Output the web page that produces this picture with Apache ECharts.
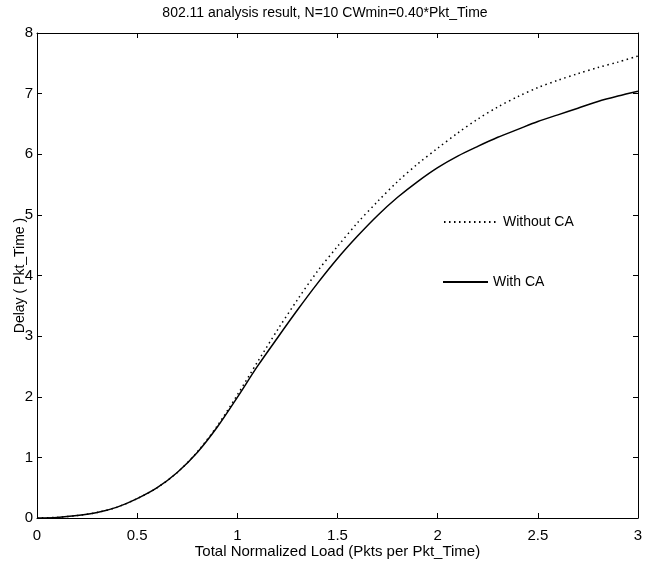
<!DOCTYPE html>
<html>
<head>
<meta charset="utf-8">
<script src="https://cdn.jsdelivr.net/npm/echarts@6/dist/echarts.min.js"></script>
<style>
  html, body { margin: 0; padding: 0; background: #fff; }
  #chart { width: 650px; height: 569px; }
</style>
</head>
<body>
<div id="chart"></div>
<script>
// 数据
const loads = [0, 0.1, 0.2, 0.3, 0.4, 0.5, 0.6, 0.7, 0.8, 0.9, 1.0, 1.1, 1.2, 1.3, 1.4, 1.5, 1.6, 1.7, 1.8, 1.9, 2.0, 2.1, 2.2, 2.3, 2.4, 2.5, 2.6, 2.7, 2.8, 2.9, 3.0];
const withCA = [0, 0.01, 0.04, 0.09, 0.18, 0.32, 0.5, 0.75, 1.08, 1.5, 1.99, 2.5, 2.97, 3.43, 3.87, 4.28, 4.65, 4.99, 5.29, 5.55, 5.78, 5.97, 6.13, 6.28, 6.41, 6.54, 6.65, 6.76, 6.87, 6.96, 7.04];
const withoutCA = [0, 0.01, 0.04, 0.09, 0.18, 0.32, 0.5, 0.75, 1.09, 1.52, 2.03, 2.57, 3.1, 3.6, 4.07, 4.48, 4.87, 5.22, 5.55, 5.84, 6.1, 6.35, 6.58, 6.78, 6.95, 7.1, 7.22, 7.33, 7.43, 7.52, 7.62];

const font = 'Liberation Sans, Arial, sans-serif';

const myChart = echarts.init(document.getElementById('chart'));

const pairs = (ys) => loads.map((x, i) => [x, ys[i]]);

const axisBase = {
  min: 0,
  axisLine: { show: true, onZero: false, lineStyle: { color: '#000', width: 1 } },
  axisTick: { show: true, inside: true, length: 5, lineStyle: { color: '#000' } },
  splitLine: { show: false }
};

const legendBase = {
  padding: 0,
  itemHeight: 10,
  itemGap: 4,
  itemStyle: { opacity: 0 },
  textStyle: { fontFamily: font, fontSize: 14, color: '#000' }
};

const option = {
  backgroundColor: '#fff',
  animation: false,
  title: {
    text: '802.11 analysis result, N=10 CWmin=0.40*Pkt_Time',
    left: 'center',
    top: 1,
    textStyle: { fontFamily: font, fontSize: 14, fontWeight: 'normal', color: '#000' }
  },
  legend: [
    Object.assign({}, legendBase, { data: ['Without CA'], left: 443, top: 215, itemWidth: 54 }),
    Object.assign({}, legendBase, { data: ['With CA'], left: 442, top: 275, itemWidth: 45 })
  ],
  grid: { left: 37, right: 12, top: 33, bottom: 51, containLabel: false, outerBoundsMode: 'none' },
  xAxis: [
    Object.assign({}, axisBase, {
      type: 'value', position: 'bottom', max: 3, interval: 0.5,
      name: 'Total Normalized Load (Pkts per Pkt_Time)',
      nameLocation: 'middle', nameGap: 26, nameMoveOverlap: false,
      nameTextStyle: { fontFamily: font, fontSize: 15, color: '#000' },
      axisLabel: { fontFamily: font, fontSize: 15, color: '#000', margin: 10 }
    }),
    Object.assign({}, axisBase, {
      type: 'value', position: 'top', max: 3, interval: 0.5,
      axisLabel: { show: false }
    })
  ],
  yAxis: [
    Object.assign({}, axisBase, {
      type: 'value', position: 'left', max: 8, interval: 1,
      name: 'Delay ( Pkt_Time )',
      nameLocation: 'middle', nameGap: 10, nameMoveOverlap: false,
      nameTextStyle: { fontFamily: font, fontSize: 14, color: '#000' },
      axisLabel: { fontFamily: font, fontSize: 15, color: '#000', margin: 4 }
    }),
    Object.assign({}, axisBase, {
      type: 'value', position: 'right', max: 8, interval: 1,
      axisLabel: { show: false }
    })
  ],
  series: [
    {
      name: 'Without CA',
      type: 'line',
      data: pairs(withoutCA),
      smooth: 0.3,
      symbol: 'none',
      itemStyle: { color: '#000' },
      lineStyle: { color: '#000', width: 1.5, type: [1.5, 3.5] }
    },
    {
      name: 'With CA',
      type: 'line',
      data: pairs(withCA),
      smooth: 0.3,
      symbol: 'none',
      itemStyle: { color: '#000' },
      lineStyle: { color: '#000', width: 1.5, type: 'solid' }
    }
  ]
};

myChart.setOption(option);
</script>
</body>
</html>
